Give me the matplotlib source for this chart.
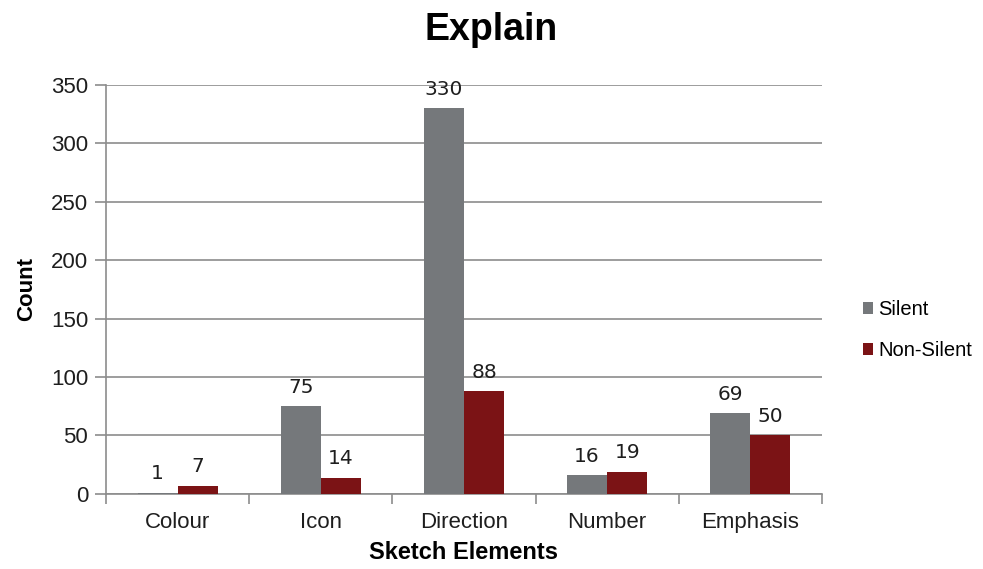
import numpy as np
import matplotlib.pyplot as plt

plt.rcParams['font.family'] = ['Liberation Sans', 'DejaVu Sans']

# counts per sketch element
categories = ['Colour', 'Icon', 'Direction', 'Number', 'Emphasis']
silent = [1, 75, 330, 16, 69]
non_silent = [7, 14, 88, 19, 50]

grey = '#75787b'
red = '#7b1315'
axis_col = '#8c8c8c'
txt_col = '#1e1e1e'

fig = plt.figure(figsize=(9.83, 5.69), dpi=100)
ax = fig.add_axes([0.108, 0.132, 0.728, 0.719])

x = np.arange(len(categories))
w = 0.28
b1 = ax.bar(x - w / 2, silent, w, color=grey, label='Silent', zorder=3)
b2 = ax.bar(x + w / 2, non_silent, w, color=red, label='Non-Silent', zorder=3)

for bars in (b1, b2):
    for rect in bars:
        h = rect.get_height()
        ax.text(rect.get_x() + rect.get_width() / 2, h + 8, str(int(h)),
                ha='center', va='bottom', fontsize=14.5, color=txt_col,
                family='DejaVu Sans')

ax.set_xlim(-0.5, len(categories) - 0.5)
ax.set_ylim(0, 350)
ax.set_yticks(range(0, 351, 50))
ax.yaxis.grid(True, color=axis_col, linewidth=1.2, zorder=0)
ax.set_axisbelow(True)

for s in ('top', 'right'):
    ax.spines[s].set_visible(False)
for s in ('left', 'bottom'):
    ax.spines[s].set_color(axis_col)
    ax.spines[s].set_linewidth(1.2)

ax.set_xticks(x)
ax.set_xticklabels(categories, fontsize=16, color=txt_col)
ax.tick_params(axis='x', length=0, pad=13)
ax.set_xticks(np.arange(-0.5, len(categories)), minor=True)
ax.tick_params(axis='x', which='minor', length=7, color=axis_col, width=1.2)
ax.tick_params(axis='y', length=8, color=axis_col, width=1.2, labelsize=16,
               labelcolor=txt_col, pad=5)

ax.set_xlabel('Sketch Elements', fontsize=17, fontweight='bold', labelpad=6)
ax.set_ylabel('Count', fontsize=16, fontweight='bold', labelpad=10)
fig.text(0.5, 0.947, 'Explain', ha='center', va='center', fontsize=27,
         fontweight='bold')

fig.legend(loc='center left', bbox_to_anchor=(0.859, 0.42), frameon=False,
           fontsize=14.5, handlelength=0.5, handleheight=0.5, handletextpad=0.3,
           labelspacing=1.1)

fig.savefig('out.png', dpi=100)
